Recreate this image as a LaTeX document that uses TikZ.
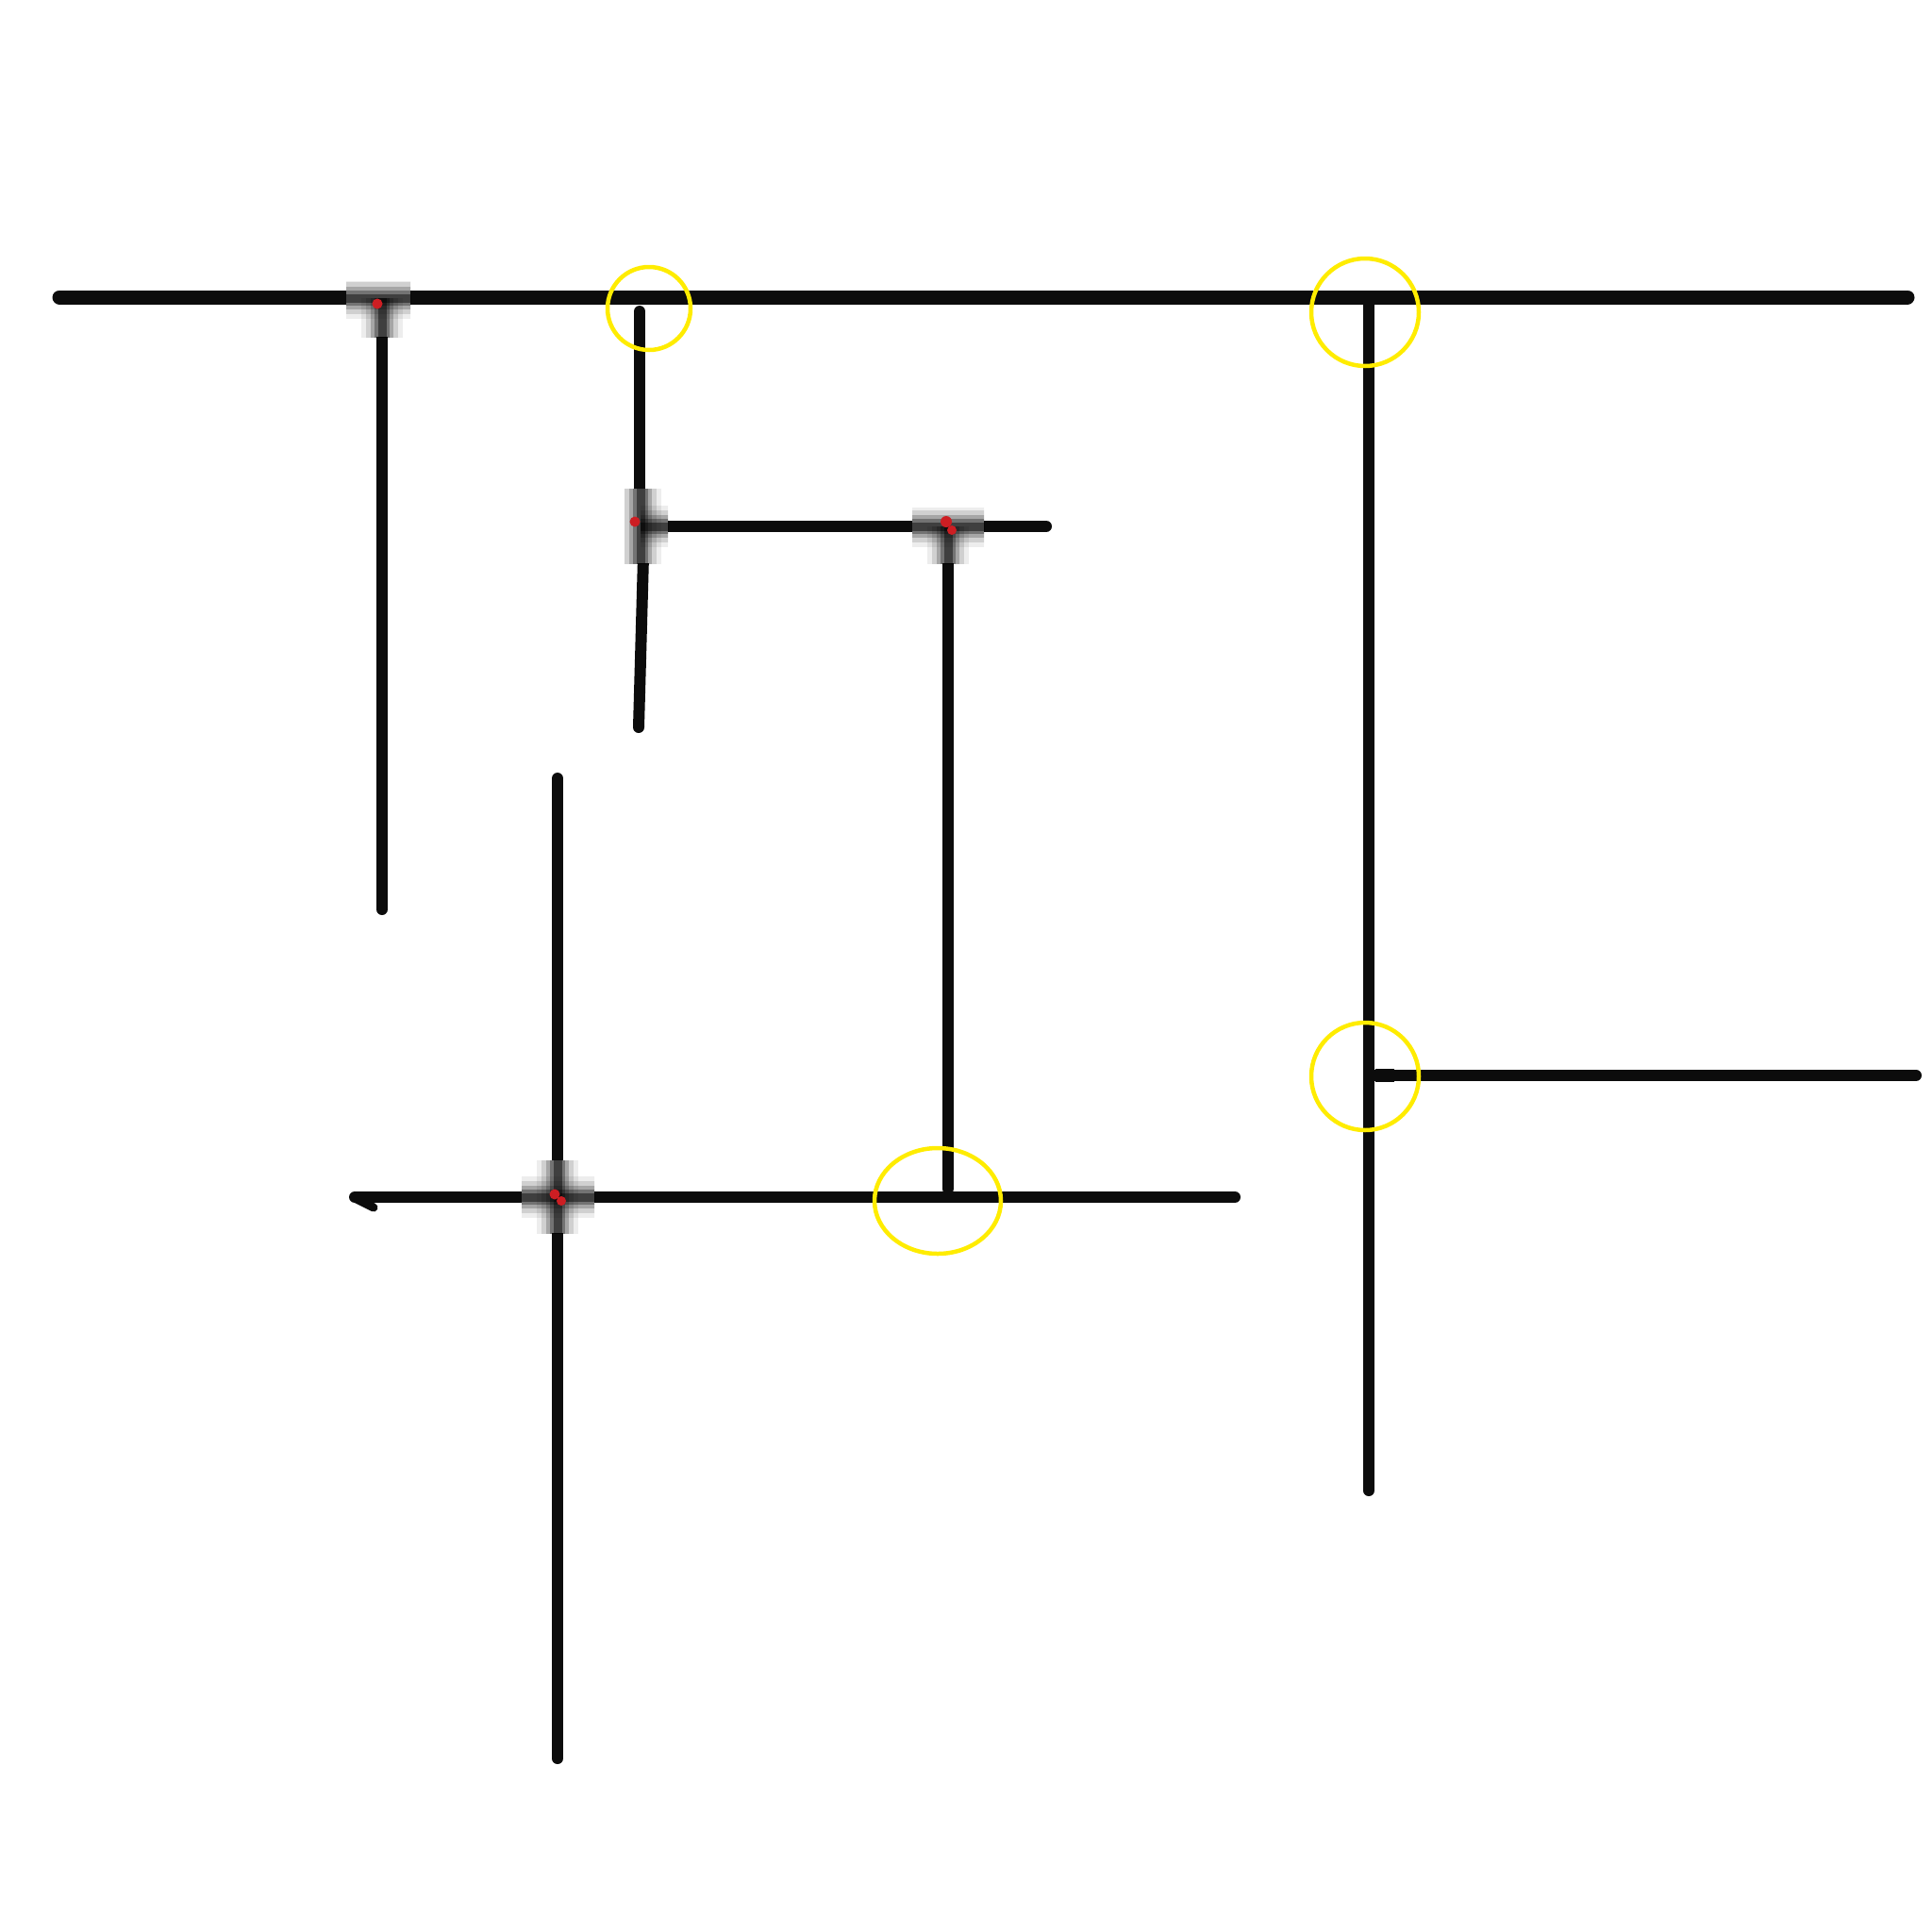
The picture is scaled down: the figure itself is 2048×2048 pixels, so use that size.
\documentclass[tikz,border=0pt]{standalone}
\usetikzlibrary{calc}
\definecolor{ink}{RGB}{12,12,12}
\definecolor{hl}{RGB}{255,236,0}
\definecolor{dot}{RGB}{205,30,35}
\tikzset{
  wire/.style={draw=ink,line width=12pt,line cap=round},
  mainwire/.style={draw=ink,line width=15pt,line cap=round},
  ring/.style={draw=hl,line width=4.5pt},
  reddot/.style={fill=dot,draw=none},
  blurA/.style={draw=black,line width=44pt,opacity=0.07},
  blurB/.style={draw=black,line width=34pt,opacity=0.12},
  blurC/.style={draw=black,line width=24pt,opacity=0.2},
  blurD/.style={draw=black,line width=16pt,opacity=0.3},
  blurE/.style={draw=black,line width=9pt,opacity=0.45},
}
\newcommand{\blurseg}[2]{%
  \draw[blurA] #1 -- #2; \draw[blurB] #1 -- #2; \draw[blurC] #1 -- #2;
  \draw[blurD] #1 -- #2; \draw[blurE] #1 -- #2;}
\begin{document}
\begin{tikzpicture}[x=1pt,y=-1pt]
\useasboundingbox (0,0) rectangle (2048,2048);
% coordinates
\coordinate (TL) at (63,315);   \coordinate (TR) at (2022,315);
\coordinate (V1a) at (405,316); \coordinate (V1b) at (405,964);
\coordinate (V2a) at (678,330); \coordinate (V2m) at (678,590);
\coordinate (V2c) at (682,590); \coordinate (V2b) at (677,771);
\coordinate (H2a) at (679,558); \coordinate (H2b) at (1109,558);
\coordinate (V3a) at (1005,558);\coordinate (V3b) at (1005,1260);
\coordinate (V4a) at (1451,323);\coordinate (V4b) at (1451,1580);
\coordinate (H4a) at (1458,1140);\coordinate (H4b) at (2031,1140);
\coordinate (H4c) at (1478,1140);
\coordinate (H5a) at (376,1269);\coordinate (H5b) at (1309,1269);
\coordinate (K1) at (378,1271); \coordinate (K2) at (396,1280);
\coordinate (V5a) at (591,825); \coordinate (V5b) at (591,1864);
% wires
\draw[mainwire] (TL) -- (TR);
\draw[wire] (V1a) -- (V1b);
\draw[wire] (V2a) -- (V2m);
\draw[wire] (V2c) -- (V2b);
\draw[wire] (H2a) -- (H2b);
\draw[wire] (V3a) -- (V3b);
\draw[wire] (V4a) -- (V4b);
\draw[wire] (H4a) -- (H4b);
\draw[wire,line width=14pt,line cap=butt] (H4a) -- (H4c);
\draw[wire] (H5a) -- (H5b);
\draw[wire,line width=9pt] (K1) -- (K2);
\draw[wire] (V5a) -- (V5b);
% blurred junctions
\begin{scope}
  \clip (367,298) rectangle (435,357);
  \fill[white] (367,298) rectangle (435,357);
  \blurseg{(360,316)}{(440,316)}
  \blurseg{(405,316)}{(405,362)}
\end{scope}
\fill[reddot] (400,322) circle (5.5);
\begin{scope}
  \clip (662,518) rectangle (708,597);
  \fill[white] (662,518) rectangle (708,597);
  \blurseg{(679,512)}{(679,602)}
  \blurseg{(679,558)}{(714,558)}
\end{scope}
\fill[reddot] (673,553) circle (5.5);
\begin{scope}
  \clip (967,538) rectangle (1043,597);
  \fill[white] (967,538) rectangle (1043,597);
  \blurseg{(960,558)}{(1050,558)}
  \blurseg{(1005,558)}{(1005,602)}
\end{scope}
\fill[reddot] (1003,553) circle (6);
\fill[reddot] (1009,562) circle (5);
\begin{scope}
  \clip (553,1230) rectangle (630,1307);
  \fill[white] (553,1230) rectangle (630,1307);
  \blurseg{(546,1269)}{(636,1269)}
  \blurseg{(591,1224)}{(591,1312)}
\end{scope}
\fill[reddot] (588,1266) circle (5.5);
\fill[reddot] (595,1273) circle (5);
% yellow highlights
\draw[ring] (688,327) circle (44);
\draw[ring] (1447,331) circle (57);
\draw[ring] (994,1273) ellipse (67 and 56);
\draw[ring] (1447,1141) circle (57);
\end{tikzpicture}
\end{document}
